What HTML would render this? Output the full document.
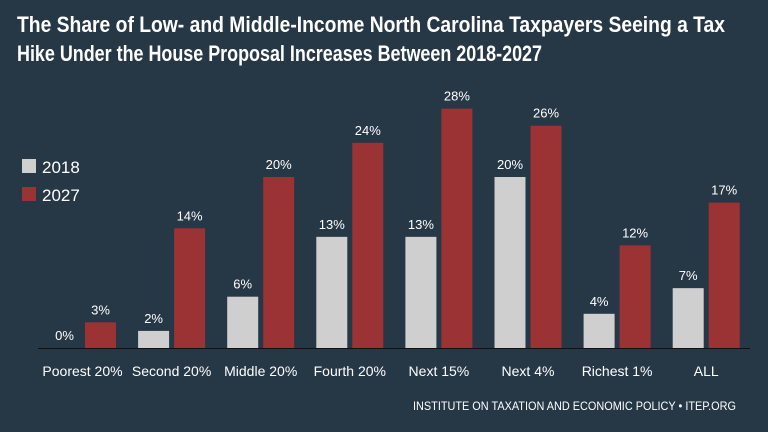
<!DOCTYPE html>
<html><head><meta charset="utf-8"><style>
html,body{margin:0;padding:0;background:#263746;}
svg{display:block;font-family:"Liberation Sans",sans-serif;}
</style></head><body>
<svg width="768" height="432" viewBox="0 0 768 432">
<rect width="768" height="432" fill="#263746"/>
<text x="17" y="32" font-size="22" font-weight="bold" fill="#fff" textLength="708" lengthAdjust="spacingAndGlyphs">The Share of Low- and Middle-Income North Carolina Taxpayers Seeing a Tax</text>
<text x="17" y="61" font-size="22" font-weight="bold" fill="#fff" textLength="525" lengthAdjust="spacingAndGlyphs">Hike Under the House Proposal Increases Between 2018-2027</text>
<rect x="22" y="159" width="14" height="14" fill="#cfcfcf"/>
<text x="42" y="173" font-size="17" fill="#fff">2018</text>
<rect x="22" y="187" width="14" height="14" fill="#9b3234"/>
<text x="42" y="201" font-size="17" fill="#fff">2027</text>
<g id="bars"></g>
<line x1="38" y1="348.5" x2="750" y2="348.5" stroke="#111" stroke-width="1"/>
<text x="736" y="410" font-size="12" fill="#fff" text-anchor="end" textLength="323" lengthAdjust="spacingAndGlyphs">INSTITUTE ON TAXATION AND ECONOMIC POLICY • ITEP.ORG</text>
</svg>
<script>
const categories=["Poorest 20%","Second 20%","Middle 20%","Fourth 20%","Next 15%","Next 4%","Richest 1%","ALL"];
const values2018=[0,2,6,13,13,20,4,7];
const values2027=[3,14,20,24,28,26,12,17];
const base=348, scale=8.55, bw=31;
function yOf(v){return base-v*scale;}
function xRed(i){return 85+i*89.1;}
const NS="http://www.w3.org/2000/svg";
const g=document.getElementById('bars');
function mk(tag,attrs){const e=document.createElementNS(NS,tag);for(const k in attrs)e.setAttribute(k,attrs[k]);g.appendChild(e);return e;}
categories.forEach((c,i)=>{
  const xr=xRed(i), xg=xr-36;
  const v1=values2018[i], v2=values2027[i];
  if(v1>0){
    const b=mk('rect',{x:xg,y:yOf(v1),width:bw,height:v1*scale,fill:'#cfcfcf'});
    
    
  }
  const t1=mk('text',{x:xg+bw/2,y:yOf(v1)-8,'font-size':13,fill:'#fff','text-anchor':'middle'});
  t1.textContent=v1+'%';
  
  
  const b2=mk('rect',{x:xr,y:yOf(v2),width:bw,height:v2*scale,fill:'#9b3234'});
  
  
  const t2=mk('text',{x:xr+bw/2,y:yOf(v2)-8,'font-size':13,fill:'#fff','text-anchor':'middle'});
  t2.textContent=v2+'%';
  
  
  const l=mk('text',{x:xr-2.5,y:376,'font-size':14,fill:'#fff','text-anchor':'middle'});
  l.textContent=c;
  
  
});
</script>
</body></html>
